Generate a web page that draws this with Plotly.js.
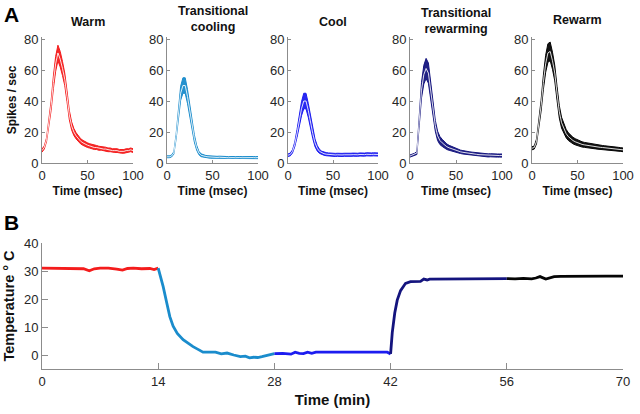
<!DOCTYPE html>
<html>
<head>
<meta charset="utf-8">
<script src="https://cdn.plot.ly/plotly-3.0.1.min.js"></script>
<style>html,body{margin:0;padding:0;background:#fff;}#chart{width:640px;height:414px;}</style>
</head>
<body>
<div id="chart"></div>
<script>
// ---------- Panel A data: PSTH (spikes/sec) vs time (msec) ----------
const timeMsec = [0,2.5,5,7.5,10,12.5,15,17.5,20,22.5,25,27.5,30,32.5,35,37.5,40,42.5,45,47.5,50,52.5,55,57.5,60,62.5,65,67.5,70,72.5,75,77.5,80,82.5,85,87.5,90,92.5,95,97.5,100];

const conditions = ["Warm", "Transitional<br>cooling", "Cool", "Transitional<br>rewarming", "Rewarm"];

const warmMean = [8,10,15,25,37,52,64,71,67,61,54,43,31,24,20,17.5,15.5,14,13,12,11.5,11,10.5,10,10,9.5,9.5,9,9,8.5,8.5,8,8,8,7.5,7.5,7.5,8,8,8.5,8];
const warmSem  = [1,1,1.2,2,3,4,4.8,5,5,4.5,4,3.5,3,2.6,2.3,2,1.8,1.7,1.6,1.5,1.5,1.4,1.4,1.3,1.3,1.3,1.2,1.2,1.2,1.2,1.2,1.2,1.2,1.2,1.2,1.2,1.2,1.2,1.2,1.2,1.2];

const tCoolingMean = [4,4,4.5,6.5,17,32,45,50,50,43,34,24,16,10,6.5,5,4.5,4.2,4,3.8,3.8,3.7,3.6,3.7,3.5,3.6,3.5,3.4,3.6,3.5,3.4,3.6,3.5,3.4,3.5,3.6,3.4,3.5,3.5,3.4,3.5];
const tCoolingSem  = [0.6,0.6,0.6,0.8,1.5,3,4.5,5,5,4.5,4,3.2,2.4,1.6,1.1,0.9,0.8,0.7,0.7,0.7,0.7,0.7,0.7,0.7,0.7,0.7,0.7,0.7,0.7,0.7,0.7,0.7,0.7,0.7,0.7,0.7,0.7,0.7,0.7,0.7,0.7];

const coolMean = [5,5.5,7.5,12,19,28,35,40,40,34,26,19,13,9.5,7.5,6.5,6,5.7,5.5,5.3,5.3,5.2,5.3,5.1,5.2,5.3,5.2,5.1,5.3,5.4,5.2,5.3,5.5,5.3,5.4,5.6,5.4,5.5,5.6,5.5,5.5];
const coolSem  = [0.8,0.9,1,1.5,2.5,3.5,4.5,5,5,4.5,4,3.2,2.5,1.8,1.3,1.1,1,1,1,1,1,1,1,1,1,1,1,1,1,1,1,1,1,1,1,1,1,1,1,1,1];

const tRewarmMean = [4.5,5,5.5,6.5,27,47,57,61,58,47,34,24,17.5,14.5,13,11.5,10.5,9.8,9.2,8.6,8,7.6,7.2,6.9,6.6,6.4,6.2,6,5.8,5.6,5.4,5.3,5.1,5,4.9,5,4.8,4.9,4.8,4.8,4.8];
const tRewarmSem  = [0.7,0.7,0.8,1,3,5,6,6.5,6.5,5.5,4.5,3.5,3,2.6,2.3,2,1.8,1.6,1.5,1.4,1.3,1.2,1.1,1.1,1,1,1,1,1,1,1,1,1,1,1,1,1,1,1,1,1];

const rewarmMean = [9.5,10,14,24,37,52,64,71,72,66,58,45,33,26,22,19,17,15.5,14.5,13.7,13,12.5,12,11.7,11.4,11.1,10.9,10.7,10.5,10.3,10.1,10,9.8,9.7,9.6,9.4,9.2,9,8.9,8.7,8.5];
const rewarmSem  = [1,1,1.5,2.5,3.5,4.5,5.5,6,6,5.5,5,4.5,4,3.5,3,2.7,2.5,2.3,2.1,2,1.9,1.8,1.7,1.6,1.6,1.5,1.5,1.4,1.4,1.4,1.3,1.3,1.3,1.3,1.2,1.2,1.2,1.2,1.2,1.2,1.2];

const psthMeans = [warmMean, tCoolingMean, coolMean, tRewarmMean, rewarmMean];
const psthSems  = [warmSem, tCoolingSem, coolSem, tRewarmSem, rewarmSem];

// ---------- Panel B data: temperature (°C) vs time (min) ----------
const warmT = [0,1,2,3,4,5,5.7,6.3,7,8,9,9.7,10.3,11,12,13,13.5,14];
const warmV = [31,31,31,31,30.9,30.8,30.1,30.8,31,31,30.7,30.3,30.9,31,30.8,30.9,30.5,31];
const coolingT = [14,14.3,14.6,15,15.4,15.8,16.3,17,17.6,18.2,18.8,19.4,20,20.9,21.6,22.3,23.1,23.9,24.5,25,25.5,26,26.5,27,27.6,28];
const coolingV = [31,28,24.4,19,13.7,10.3,7.7,5.5,4.2,3,2,1,1,1,0.4,0.7,0,-0.6,-0.4,-1,-0.8,-0.9,-0.6,-0.3,0.3,0.5];
const coolT = [28,29,30,30.5,31,31.5,32,32.5,33,34,35,36,37,38,39,40,41,41.6,42];
const coolV = [0.5,0.6,0.3,1,0.6,0.5,1,0.6,1,1,1,1,0.9,1,0.9,1,1,1,0.4];
const rewarmingT = [42,42.2,42.5,42.8,43.2,43.5,43.8,44.4,45,45.6,46,46.4,46.7,47,48,50,52,54,56];
const rewarmingV = [0.4,8,15,19.6,23,24.5,25.6,26.2,26.2,26.3,27.1,26.8,27.1,27.1,27.2,27.2,27.3,27.3,27.3];
const rewarmT = [56,57,58,59,59.5,60,60.7,61.2,61.7,62.5,64,66,68,70];
const rewarmV = [27.3,27.2,27.4,27.2,27.5,28,27.1,27.5,28,28.1,28.2,28.2,28.2,28.2];

const segT = [warmT, coolingT, coolT, rewarmingT, rewarmT];
const segV = [warmV, coolingV, coolV, rewarmingV, rewarmV];

const lineColors = ["#f41c1c", "#1a8ccc", "#1c1cf0", "#14147e", "#050505"];
const fillColors = ["rgba(244,28,28,0.95)", "rgba(26,140,204,0.95)", "rgba(28,28,240,0.95)", "rgba(20,20,126,0.95)", "rgba(5,5,5,0.95)"];

// ---------- build ----------
const W = 640, H = 414;
const px = v => v / W;
const py = v => 1 - v / H;
const FONT = "Liberation Sans, Arial, sans-serif";
const axisGray = "#8c8c8c";
const tickTxt = "#262626";

const xDomPx = [[42,133],[167,258],[288,378],[410,502],[532,623]];

const traces = [];
const layout = {
  width: W, height: H,
  margin: {l:0, r:0, t:0, b:0},
  paper_bgcolor: "#fff", plot_bgcolor: "#fff",
  showlegend: false,
  font: {family: FONT, color: tickTxt, size: 13},
  annotations: []
};

for (let i = 0; i < 5; i++) {
  const k = i === 0 ? "" : String(i + 1);
  const xa = "x" + k, ya = "y" + k;
  const m = psthMeans[i], s = psthSems[i];
  const up = m.map((v, j) => v + s[j]);
  const lo = m.map((v, j) => v - s[j]);
  traces.push({x: timeMsec, y: up, xaxis: xa, yaxis: ya, type: "scatter", mode: "lines",
    line: {color: lineColors[i], width: 1}, hoverinfo: "skip"});
  traces.push({x: timeMsec, y: lo, xaxis: xa, yaxis: ya, type: "scatter", mode: "lines",
    fill: "tonexty", fillcolor: fillColors[i], line: {color: lineColors[i], width: 1}, hoverinfo: "skip"});
  traces.push({x: timeMsec, y: m, xaxis: xa, yaxis: ya, type: "scatter", mode: "lines",
    line: {color: "rgba(255,255,255,0.85)", width: 1}, name: conditions[i]});

  layout["xaxis" + k] = {
    domain: [px(xDomPx[i][0]), px(xDomPx[i][1])], anchor: ya, range: [0, 100],
    tickvals: [0, 50, 100], ticks: "inside", ticklen: 3, tickcolor: axisGray,
    showline: true, linecolor: axisGray, linewidth: 1, showgrid: false, zeroline: false,
    tickfont: {size: 13, color: tickTxt, family: FONT},
    title: {text: "Time (msec)", font: {size: 12, family: FONT, color: "#111", weight: "bold"}, standoff: 5}
  };
  layout["yaxis" + k] = {
    domain: [py(163), py(37)], anchor: xa, range: [0, 81.3],
    tickvals: [0, 20, 40, 60, 80], ticks: "inside", ticklen: 3, tickcolor: axisGray,
    showline: true, linecolor: axisGray, linewidth: 1, showgrid: false, zeroline: false,
    tickfont: {size: 13, color: tickTxt, family: FONT},
    title: i === 0 ? {text: "Spikes / sec", font: {size: 12, family: FONT, color: "#111", weight: "bold"}, standoff: 4} : {text: ""}
  };
}

// subplot titles (one text per panel, wrapped where the reference wraps)
const titleCenterY = [21.5, 19.5, 22, 20.5, 20];
conditions.forEach((txt, i) => {
  const cx = (xDomPx[i][0] + xDomPx[i][1]) / 2;
  layout.annotations.push({text: txt, x: px(cx), y: py(titleCenterY[i]), xref: "paper", yref: "paper",
    xanchor: "center", yanchor: "middle", showarrow: false,
    font: {size: 12.5, family: FONT, color: "#111", weight: "bold"}});
});

// Panel B
segT.forEach((t, i) => {
  traces.push({x: t, y: segV[i], xaxis: "x6", yaxis: "y6", type: "scatter", mode: "lines",
    line: {color: lineColors[i], width: 2.8}, name: conditions[i].replace("<br>", " ")});
});
layout.xaxis6 = {
  domain: [px(42), px(623)], anchor: "y6", range: [0, 70],
  tickvals: [0, 14, 28, 42, 56, 70], ticks: "inside", ticklen: 6, tickcolor: axisGray,
  showline: true, linecolor: axisGray, linewidth: 1, showgrid: false, zeroline: false,
  tickfont: {size: 13, color: tickTxt, family: FONT},
  title: {text: "Time (min)", font: {size: 15, family: FONT, color: "#111", weight: "bold"}, standoff: 6}
};
layout.yaxis6 = {
  domain: [py(369), py(243)], anchor: "x6", range: [-5, 40],
  tickvals: [0, 10, 20, 30, 40], ticks: "inside", ticklen: 6, tickcolor: axisGray,
  showline: true, linecolor: axisGray, linewidth: 1, showgrid: false, zeroline: false,
  tickfont: {size: 13, color: tickTxt, family: FONT},
  title: {text: "Temperature ° C", font: {size: 14.5, family: FONT, color: "#111", weight: "bold"}, standoff: 5}
};

// panel letters
layout.annotations.push({text: "A", x: px(2), y: py(14.5), xref: "paper", yref: "paper",
  xanchor: "left", yanchor: "middle", showarrow: false, font: {size: 21, family: FONT, color: "#000", weight: "bold"}});
layout.annotations.push({text: "B", x: px(2), y: py(222.5), xref: "paper", yref: "paper",
  xanchor: "left", yanchor: "middle", showarrow: false, font: {size: 21, family: FONT, color: "#000", weight: "bold"}});

Plotly.newPlot("chart", traces, layout, {staticPlot: true, displayModeBar: false});
</script>
</body>
</html>
